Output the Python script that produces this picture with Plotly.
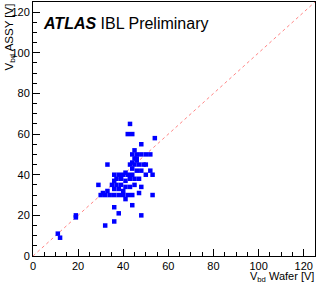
import plotly.graph_objects as go

wafer_v = [11, 12, 19, 19,
           32, 36, 48, 38, 36, 44, 41, 53,
           30, 32, 34, 36, 38, 40, 42, 44,
           31, 33, 47,
           29, 35, 37, 39, 41, 43, 48, 36, 38, 40, 45,
           36, 41, 37, 39, 43, 45, 47,
           36, 38, 40, 42, 44, 50, 53, 39, 43,
           41, 46, 52, 44, 48,
           33, 43, 45, 47, 49, 50,
           46, 45, 46, 44,
           44, 46, 48, 50, 52,
           45, 48, 54, 42, 44, 43]
assy_v = [11, 9, 20, 19,
          15, 17, 20, 21, 24, 25, 28, 30,
          30, 30, 30, 30, 30, 30, 30, 30,
          31, 32, 31,
          35, 35, 35, 35, 34, 34, 34, 33, 33, 32, 35,
          37, 37, 38, 38, 38, 38, 38,
          40, 40, 40, 40, 40, 40, 40, 39, 39,
          41, 42, 42, 43, 42,
          45, 45, 45, 45, 45, 45,
          47, 48, 48, 46,
          50, 50, 50, 50, 50,
          52, 55, 58, 60, 60, 65]
diag = [0, 125]

fig = go.Figure()
fig.add_trace(go.Scatter(x=diag, y=diag, mode="lines",
                         line=dict(color="rgba(255,80,80,0.7)", width=1, dash="dot"),
                         hoverinfo="skip"))
fig.add_trace(go.Scatter(x=wafer_v, y=assy_v, mode="markers",
                         marker=dict(symbol="square", size=4.5, color="#0000ff",
                                     line=dict(width=0))))

axis_common = dict(
    range=[0, 125], dtick=20, tick0=0, ticks="inside", ticklen=7, tickwidth=1,
    tickcolor="black", showline=True, linecolor="black", linewidth=1, mirror=True,
    showgrid=False, zeroline=False,
    tickfont=dict(family="Liberation Sans, Arial", size=11, color="black"),
    minor=dict(dtick=5, ticks="inside", ticklen=4, tickcolor="black", showgrid=False),
)
fig.update_xaxes(**axis_common)
fig.update_yaxes(**axis_common)

fig.update_layout(
    width=333, height=283,
    margin=dict(l=33, r=18, t=2, b=27, autoexpand=False),
    plot_bgcolor="white", paper_bgcolor="white",
    showlegend=False,
    font=dict(family="Liberation Sans, Arial", color="black"),
    annotations=[
        dict(text="<b><i>ATLAS</i></b> IBL Preliminary", xref="paper", yref="paper",
             x=0.03, y=0.958, xanchor="left", yanchor="top", showarrow=False,
             font=dict(size=16, family="Liberation Sans, Arial", color="black")),
        dict(text="V<sub>bd</sub> Wafer [V]", xref="paper", yref="paper",
             x=1.0, y=-0.052, xanchor="right", yanchor="top", showarrow=False,
             borderpad=0,
             font=dict(size=11, family="Liberation Sans, Arial", color="black")),
        dict(text="V<sub>bd</sub> ASSY [V]", xref="paper", yref="paper",
             x=-0.085, y=1.0, xanchor="center", yanchor="top", textangle=-90,
             showarrow=False,
             font=dict(size=11.5, family="Liberation Sans, Arial", color="black")),
    ],
)
fig.write_html("out.html", config={"displayModeBar": False},
               post_script="document.body.style.margin='0px';")
